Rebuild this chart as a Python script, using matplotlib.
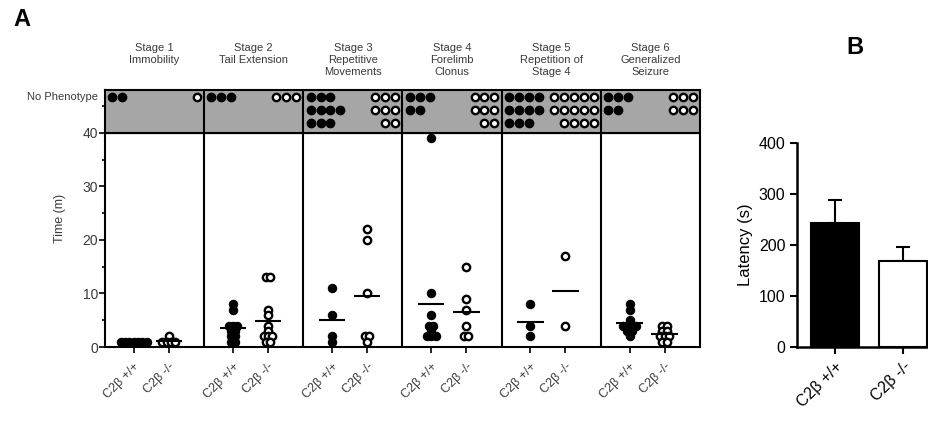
import numpy as np
import matplotlib
matplotlib.use('Agg')
import matplotlib.pyplot as plt
from matplotlib.ticker import MultipleLocator

plt.rcParams['font.family'] = ['Liberation Sans', 'DejaVu Sans']

# ---- data ----
stages = ['Stage 1\nImmobility', 'Stage 2\nTail Extension',
          'Stage 3\nRepetitive\nMovements', 'Stage 4\nForelimb\nClonus',
          'Stage 5\nRepetition of\nStage 4', 'Stage 6\nGeneralized\nSeizure']
genotypes = ['C2\u03b2 +/+', 'C2\u03b2 -/-']

wt_times = [
    [1, 1, 1, 1, 1, 1, 1],
    [8, 7, 4, 4, 4, 3, 3, 2, 2, 1, 1],
    [11, 6, 2, 1],
    [39, 10, 6, 4, 4, 3, 2, 2, 2],
    [8, 4, 2],
    [8, 7, 5, 4, 4, 4, 4, 3, 3, 2],
]
ko_times = [
    [2, 1, 1, 1, 1],
    [13, 13, 7, 6, 4, 3, 2, 2, 2, 1, 1],
    [22, 20, 10, 2, 2, 1],
    [15, 9, 7, 4, 2, 2],
    [17, 4],
    [4, 4, 3, 3, 2, 2, 2, 1, 1],
]
# animals with no phenotype, per row of the grey band
wt_nophen = [[2], [3], [3, 4, 3], [3, 2], [4, 4, 3], [3, 2]]
ko_nophen = [[1], [3], [3, 3, 2], [3, 3, 2], [5, 5, 4], [3, 3]]

latency_mean = [243, 168]
latency_sem = [45, 28]


def swarm(vals, width=0.13):
    # spread points that share a value side by side
    vals = np.asarray(vals, float)
    off = np.zeros(len(vals))
    for v in np.unique(vals):
        idx = np.where(vals == v)[0]
        n = len(idx)
        off[idx] = (np.arange(n) - (n - 1) / 2) * width
    return off


fig = plt.figure(figsize=(9.29, 4.25), dpi=100)
grey_txt = '#3a3a3a'

# ---- panel A ----
ax = fig.add_axes([0.113, 0.1835, 0.6405, 0.6045])
ax.set_xlim(0, 18)
ax.set_ylim(0, 48)
ax.axhspan(40, 48, color='#a6a6a6', zorder=0)
ax.axhline(40, color='black', lw=1.5)
for i in range(1, 6):
    ax.axvline(3 * i, color='black', lw=1.5)

pos = []
labels = []
for i in range(6):
    x_wt = 3 * i + 0.87
    x_ko = 3 * i + 1.93
    pos += [x_wt, x_ko]
    labels += genotypes

    ax.scatter(x_wt + swarm(wt_times[i]), wt_times[i], s=36, c='black',
               edgecolors='black', linewidths=0.8, zorder=3, clip_on=False)
    ax.scatter(x_ko + swarm(ko_times[i]), ko_times[i], s=28, c='white',
               edgecolors='black', linewidths=1.7, zorder=3, clip_on=False)
    ax.hlines(np.mean(wt_times[i]), x_wt - 0.4, x_wt + 0.4, color='black', lw=1.5, zorder=4)
    ax.hlines(np.mean(ko_times[i]), x_ko - 0.4, x_ko + 0.4, color='black', lw=1.5, zorder=4)

    # no phenotype band
    for r, n in enumerate(wt_nophen[i]):
        xs = 3 * i + 0.22 + 0.3 * np.arange(n)
        ax.scatter(xs, [46.7 - 2.4 * r] * n, s=36, c='black', zorder=3)
    for r, n in enumerate(ko_nophen[i]):
        xs = 3 * i + 2.78 - 0.3 * np.arange(n)
        ax.scatter(xs, [46.7 - 2.4 * r] * n, s=28, c='white',
                   edgecolors='black', linewidths=1.7, zorder=3)

    ax.text(3 * i + 1.5, 1.185, stages[i], transform=ax.get_xaxis_transform(),
            ha='center', va='top', fontsize=8, color=grey_txt, linespacing=1.3)

ax.text(-0.2, 46.7, 'No Phenotype', ha='right', va='center', fontsize=8, color=grey_txt)

ax.set_yticks([0, 10, 20, 30, 40])
ax.yaxis.set_minor_locator(MultipleLocator(5))
ax.set_xticks(pos)
ax.set_xticklabels(labels, rotation=45, ha='right', rotation_mode='anchor',
                   fontsize=9, color=grey_txt)
ax.tick_params(axis='y', labelsize=10, labelcolor=grey_txt, width=1.2, length=4, pad=1)
ax.tick_params(axis='y', which='minor', width=1.2, length=2.5)
ax.tick_params(axis='x', width=1.2, length=4, pad=6)
ax.set_ylabel('Time (m)', fontsize=9, color=grey_txt, labelpad=12)
for s in ax.spines.values():
    s.set_linewidth(1.5)

# ---- panel B ----
bx = fig.add_axes([0.858, 0.1835, 0.142, 0.48])
bx.bar([0, 1], latency_mean, width=0.7, color=['black', 'white'],
       edgecolor='black', linewidth=1.5, zorder=2)
bx.errorbar([0, 1], latency_mean, yerr=[[0, 0], latency_sem], fmt='none',
            ecolor='black', elinewidth=1.5, capsize=5, capthick=1.5, zorder=1)
bx.set_xlim(-0.56, 1.38)
bx.set_ylim(0, 400)
bx.set_yticks([0, 100, 200, 300, 400])
bx.set_xticks([0, 1])
bx.set_xticklabels(genotypes, rotation=45, ha='right', rotation_mode='anchor', fontsize=11)
bx.tick_params(axis='both', labelsize=11.5, width=1.5, length=5)
bx.set_ylabel('Latency (s)', fontsize=12)
bx.spines['top'].set_visible(False)
bx.spines['right'].set_visible(False)
bx.spines['left'].set_linewidth(1.8)
bx.spines['bottom'].set_linewidth(1.8)

fig.text(22 / 929, 1 - 20 / 425, 'A', fontsize=17, fontweight='bold', ha='center', va='center')
fig.text(855 / 929, 1 - 48 / 425, 'B', fontsize=17, fontweight='bold', ha='center', va='center')

fig.savefig('out.png', dpi=100)
